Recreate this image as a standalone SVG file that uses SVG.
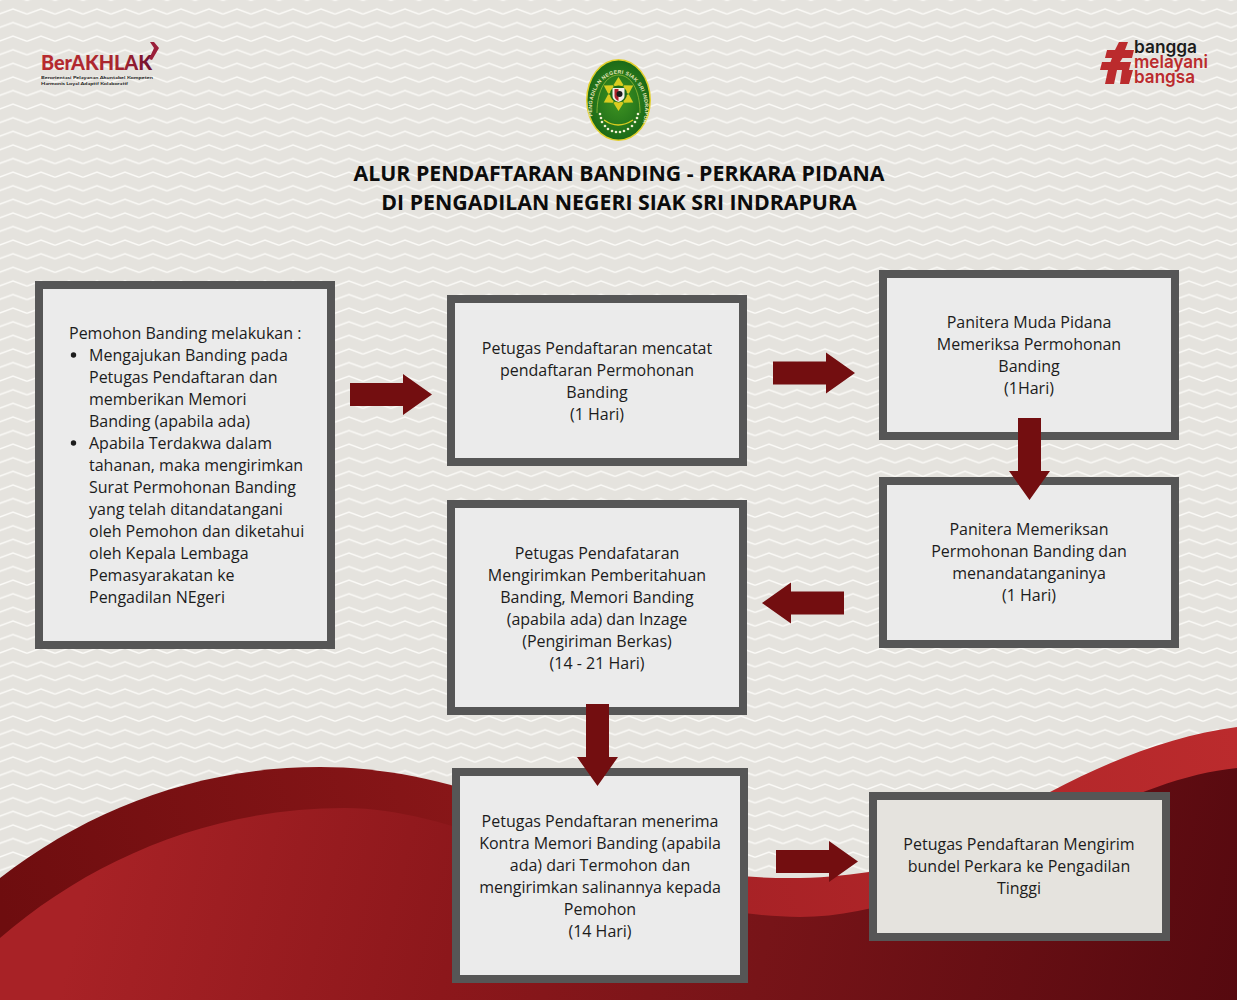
<svg xmlns="http://www.w3.org/2000/svg" xmlns:xlink="http://www.w3.org/1999/xlink" width="1237" height="1000" viewBox="0 0 1237 1000">
<style>
.box{stroke:#565656;stroke-width:8;fill:#ebebeb}
.t{font-family:"Open Sans","Liberation Sans",sans-serif;font-size:16px;fill:#1c1c1c;text-anchor:middle}
.l{text-anchor:start}
.h{font-family:"Open Sans","Liberation Sans",sans-serif;font-size:21.3px;font-weight:700;fill:#0c0c0c;text-anchor:middle}
.flow{fill:#730e10}
.bk{font-family:"Lato","Liberation Sans",sans-serif;font-size:4.400px;font-weight:700;fill:#222}
.bg{font-family:"Inter","Liberation Sans",sans-serif;font-size:17.500px;font-weight:600}
.leaf{fill:#d9cc20}
.dot{fill:#f1efcf}
</style>
<defs>
<pattern id="zig" width="28" height="13.600" patternUnits="userSpaceOnUse" patternTransform="translate(-1 6)">
<path d="M0 5L14 0L28 5" fill="none" stroke="#fbfaf7" stroke-width="1.500" transform="translate(0 3)"/>
</pattern>
<linearGradient id="gL" gradientUnits="userSpaceOnUse" x1="0" y1="900" x2="500" y2="760"><stop offset="0" stop-color="#6e0d0f"/><stop offset="1" stop-color="#8b1719"/></linearGradient>
<linearGradient id="gB" gradientUnits="userSpaceOnUse" x1="740" y1="900" x2="1237" y2="740"><stop offset="0" stop-color="#a82226"/><stop offset="1" stop-color="#bb2b2d"/></linearGradient>
<linearGradient id="gF" gradientUnits="userSpaceOnUse" x1="0" y1="700" x2="1237" y2="1000"><stop offset="0.1" stop-color="#a82226"/><stop offset="0.39" stop-color="#8c171b"/><stop offset="0.63" stop-color="#771418"/><stop offset="1" stop-color="#56090f"/></linearGradient>
<radialGradient id="green"><stop offset="0" stop-color="#3f9422"/><stop offset="1" stop-color="#1c6a18"/></radialGradient>
<linearGradient id="lg" x1="0" x2="1"><stop offset="0" stop-color="#b82a2e"/><stop offset="0.7" stop-color="#a8252f"/><stop offset="1" stop-color="#6e1030"/></linearGradient>
<path id="arrow" d="M0-11.500H53V-20.500L82 0L53 20.500V11.500H0Z"/>
<path id="ringtext" d="M594 122A26.500 35 0 1 1 643 122"/>
<path id="leaf" d="M0-17L5-9L0-5L-5-9Z"/>
</defs>
<rect width="1237" height="1000" fill="#e5e3de"/>
<rect width="1237" height="1000" fill="url(#zig)"/>
<g id="background-waves">
<path fill="url(#gL)" d="M0 878C90 808 200 767 320 767C420 767 520 800 640 860L760 1000H0Z"/>
<path fill="url(#gB)" d="M740 876C790 880 830 878 869 872C930 862 990 822 1050 792C1110 760 1175 735 1237 727V1000H740Z"/>
<path fill="url(#gF)" d="M0 938C90 860 210 808 345 808C480 808 620 915 800 917C900 917 1000 860 1070 825C1130 795 1185 773 1237 768V1000H0Z"/>
</g>
<g id="logo-berakhlak">
<text x="41" y="69.500" font-family="Lato,Liberation Sans,sans-serif" font-size="21" font-weight="900" fill="url(#lg)" textLength="111" lengthAdjust="spacingAndGlyphs">BerAKHLAK</text>
<path d="M150 42H154L159 48L152 60L149 59L154 48Z" fill="#9b1f3a"/>
<text class="bk" x="41" y="78.500" textLength="112" lengthAdjust="spacingAndGlyphs">Berorientasi Pelayanan Akuntabel Kompeten</text>
<text class="bk" x="41" y="84.500" textLength="87" lengthAdjust="spacingAndGlyphs">Harmonis Loyal Adaptif Kolaboratif</text>
</g>
<g id="logo-court">
<ellipse cx="618.500" cy="100" rx="32.500" ry="41" fill="#e2cf2a"/>
<ellipse cx="618.500" cy="100" rx="31" ry="39.500" fill="url(#green)"/>
<path d="M597 113C597 90 606 75 618.500 75C631 75 640 90 640 113" fill="none" stroke="#a3c33a" stroke-width="0.700"/>
<text font-family="Liberation Sans,sans-serif" font-size="5.200" font-weight="700" fill="#e9e7b8" letter-spacing="0.300"><textPath xlink:href="#ringtext" href="#ringtext" startOffset="6">PENGADILAN NEGERI SIAK SRI INDRAPURA</textPath></text>
<g transform="translate(618.500 94)">
<use xlink:href="#leaf" href="#leaf" class="leaf"/>
<use xlink:href="#leaf" href="#leaf" class="leaf" transform="rotate(60)"/>
<use xlink:href="#leaf" href="#leaf" class="leaf" transform="rotate(120)"/>
<use xlink:href="#leaf" href="#leaf" class="leaf" transform="rotate(180)"/>
<use xlink:href="#leaf" href="#leaf" class="leaf" transform="rotate(240)"/>
<use xlink:href="#leaf" href="#leaf" class="leaf" transform="rotate(300)"/>
<circle r="8.500" fill="#1d6a18"/>
<path d="M-6-6H6V2Q6 6 0 8Q-6 6-6 2Z" fill="#f1f0e6"/>
<path d="M-4-5H0V7Q-4 5-4 2Z" fill="#b0222a"/>
<circle cx="1" cy="0" r="3" fill="#1a1a1a"/>
</g>
<path d="M604 120Q618 130 633 120" fill="none" stroke="#d9cc20" stroke-width="1.500"/>
<g class="dot">
<circle cx="600" cy="114" r="1.300"/><circle cx="601" cy="118" r="1.300"/><circle cx="602" cy="122" r="1.300"/><circle cx="605" cy="126" r="1.300"/><circle cx="608" cy="129" r="1.300"/><circle cx="612" cy="131" r="1.300"/><circle cx="616" cy="132" r="1.300"/><circle cx="620" cy="132" r="1.300"/><circle cx="624" cy="131" r="1.300"/><circle cx="628" cy="129" r="1.300"/><circle cx="632" cy="126" r="1.300"/><circle cx="635" cy="122" r="1.300"/><circle cx="637" cy="118" r="1.300"/><circle cx="638" cy="114" r="1.300"/>
</g>
</g>
<g id="logo-bangga">
<path fill="#bb2b2d" d="M1119 42H1128L1125 50H1134L1132 58H1122.500L1120 62H1131L1129 70H1133L1129 84H1120L1122 70H1117L1114 84H1105L1108 70H1100L1102 62H1110.500L1112 58H1105L1107 50H1115Z"/>
<text class="bg" x="1134" y="53" fill="#1b1b1b" textLength="63" lengthAdjust="spacingAndGlyphs">bangga</text>
<text class="bg" x="1134" y="68" fill="#bb2b2d" textLength="74" lengthAdjust="spacingAndGlyphs">melayani</text>
<text class="bg" x="1134" y="83" fill="#bb2b2d" textLength="61" lengthAdjust="spacingAndGlyphs">bangsa</text>
</g>
<g id="title">
<text class="h" x="619" y="181">ALUR PENDAFTARAN BANDING - PERKARA PIDANA</text>
<text class="h" x="619" y="210">DI PENGADILAN NEGERI SIAK SRI INDRAPURA</text>
</g>
<g id="node-pemohon">
<rect class="box" x="39" y="285" width="292" height="360"/>
<text class="t l" x="69" y="339">Pemohon Banding melakukan :</text>
<circle cx="73.500" cy="355" r="2.700" fill="#1c1c1c"/>
<text class="t l" x="89" y="361">Mengajukan Banding pada</text>
<text class="t l" x="89" y="383">Petugas Pendaftaran dan</text>
<text class="t l" x="89" y="405">memberikan Memori</text>
<text class="t l" x="89" y="427">Banding (apabila ada)</text>
<circle cx="73.500" cy="443" r="2.700" fill="#1c1c1c"/>
<text class="t l" x="89" y="449">Apabila Terdakwa dalam</text>
<text class="t l" x="89" y="471">tahanan, maka mengirimkan</text>
<text class="t l" x="89" y="493">Surat Permohonan Banding</text>
<text class="t l" x="89" y="515">yang telah ditandatangani</text>
<text class="t l" x="89" y="537">oleh Pemohon dan diketahui</text>
<text class="t l" x="89" y="559">oleh Kepala Lembaga</text>
<text class="t l" x="89" y="581">Pemasyarakatan ke</text>
<text class="t l" x="89" y="603">Pengadilan NEgeri</text>
</g>
<g id="node-petugas-mencatat">
<rect class="box" x="451" y="299" width="292" height="163"/>
<text class="t" x="597" y="354">Petugas Pendaftaran mencatat</text>
<text class="t" x="597" y="376">pendaftaran Permohonan</text>
<text class="t" x="597" y="398">Banding</text>
<text class="t" x="597" y="420">(1 Hari)</text>
</g>
<g id="node-panitera-muda">
<rect class="box" x="883" y="274" width="292" height="162"/>
<text class="t" x="1029" y="328">Panitera Muda Pidana</text>
<text class="t" x="1029" y="350">Memeriksa Permohonan</text>
<text class="t" x="1029" y="372">Banding</text>
<text class="t" x="1029" y="394">(1Hari)</text>
</g>
<g id="node-panitera">
<rect class="box" x="883" y="481" width="292" height="163"/>
<text class="t" x="1029" y="535">Panitera Memeriksan</text>
<text class="t" x="1029" y="557">Permohonan Banding dan</text>
<text class="t" x="1029" y="579">menandatanganinya</text>
<text class="t" x="1029" y="601">(1 Hari)</text>
</g>
<g id="node-pemberitahuan">
<rect class="box" x="451" y="504" width="292" height="207"/>
<text class="t" x="597" y="559">Petugas Pendafataran</text>
<text class="t" x="597" y="581">Mengirimkan Pemberitahuan</text>
<text class="t" x="597" y="603">Banding, Memori Banding</text>
<text class="t" x="597" y="625">(apabila ada) dan Inzage</text>
<text class="t" x="597" y="647">(Pengiriman Berkas)</text>
<text class="t" x="597" y="669">(14 - 21 Hari)</text>
</g>
<g id="node-kontra">
<rect class="box" x="456" y="772" width="288" height="207"/>
<text class="t" x="600" y="827">Petugas Pendaftaran menerima</text>
<text class="t" x="600" y="849">Kontra Memori Banding (apabila</text>
<text class="t" x="600" y="871">ada) dari Termohon dan</text>
<text class="t" x="600" y="893">mengirimkan salinannya kepada</text>
<text class="t" x="600" y="915">Pemohon</text>
<text class="t" x="600" y="937">(14 Hari)</text>
</g>
<g id="node-bundel">
<rect class="box" x="873" y="796" width="293" height="141" style="fill:#e5e3de"/>
<text class="t" x="1019" y="850">Petugas Pendaftaran Mengirim</text>
<text class="t" x="1019" y="872">bundel Perkara ke Pengadilan</text>
<text class="t" x="1019" y="894">Tinggi</text>
</g>
<g id="connectors" class="flow">
<use xlink:href="#arrow" href="#arrow" transform="translate(350 394.500)"/>
<use xlink:href="#arrow" href="#arrow" transform="translate(773 373)"/>
<use xlink:href="#arrow" href="#arrow" transform="translate(1029.500 418) rotate(90)"/>
<use xlink:href="#arrow" href="#arrow" transform="translate(844 603) rotate(180)"/>
<use xlink:href="#arrow" href="#arrow" transform="translate(597.500 704) rotate(90)"/>
<use xlink:href="#arrow" href="#arrow" transform="translate(776 861.500)"/>
</g>
</svg>
